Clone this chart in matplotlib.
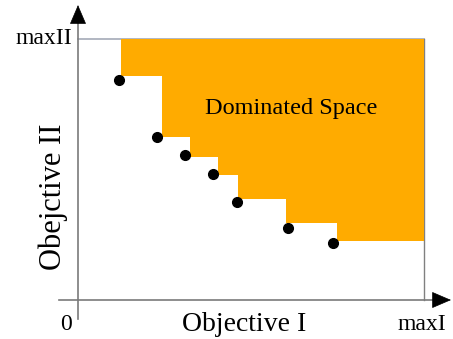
import matplotlib.pyplot as plt

# pareto front points (objective I, objective II), 0..10 scale
px = [1.18, 2.28, 3.09, 3.90, 4.60, 6.07, 7.37]
py = [8.43, 6.25, 5.56, 4.83, 3.75, 2.76, 2.18]

# corners of the dominated staircase
step_x = [1.24, 2.43, 3.24, 4.05, 4.62, 6.01, 7.49]
step_y = [8.58, 6.25, 5.48, 4.79, 3.87, 2.95, 2.26]

max1 = 10.0
max2 = 10.0

plt.rcParams['font.family'] = ['Liberation Serif', 'DejaVu Serif']

fig = plt.figure(figsize=(4.53, 3.39), dpi=100)
ax = fig.add_axes([78 / 453, 39 / 339, 346 / 453, 261 / 339])
ax.set_xlim(0, max1)
ax.set_ylim(0, max2)
ax.axis('off')

# max lines
ax.plot([0, max1], [max2, max2], color='#a4aab8', lw=1.2, zorder=1, clip_on=False)
ax.plot([max1, max1], [0, max2], color='#808080', lw=1.0, zorder=1, clip_on=False)

# dominated space as stacked bands
top = max2
for i in range(len(step_x)):
    ext = 0.03 if i in (0, len(step_x) - 1) else 0.0
    ax.barh(step_y[i], max1 + ext - step_x[i], height=top - step_y[i],
            left=step_x[i], align='edge', color='#ffab00', lw=0, zorder=2)
    top = step_y[i]

ax.plot(px, py, 'o', color='black', ms=7, zorder=4, clip_on=False)

# axes with arrows
ax.plot([0, 0], [-0.73, 11.0], color='#7a7a7a', lw=1.2, clip_on=False, zorder=1)
ax.plot([-0.55, 10.5], [0, 0], color='#7a7a7a', lw=1.2, clip_on=False, zorder=1)
head = dict(arrowstyle='-|>,head_length=0.7,head_width=0.3', color='black',
            lw=0.5, mutation_scale=18, shrinkA=0, shrinkB=0)
ax.annotate('', xy=(0, 11.3), xytext=(0, 10.6), arrowprops=head, annotation_clip=False)
ax.annotate('', xy=(10.78, 0), xytext=(10.3, 0), arrowprops=head, annotation_clip=False)

ax.text(6.15, 7.32, 'Dominated Space', fontsize=17.5, ha='center', va='center', zorder=5)
ax.text(4.8, -0.92, 'Objective I', fontsize=20, ha='center', va='center', clip_on=False)
ax.text(-0.35, -0.92, '0', fontsize=17, ha='center', va='center', clip_on=False)
ax.text(9.95, -0.92, 'maxI', fontsize=17, ha='center', va='center', clip_on=False)
ax.text(-0.17, max2, 'maxII', fontsize=17, ha='right', va='center', clip_on=False)
ax.text(-0.72, 3.96, 'Obejctive II', fontsize=22, rotation=90, ha='center', va='center',
        clip_on=False)

fig.savefig('out.png', dpi=100)
